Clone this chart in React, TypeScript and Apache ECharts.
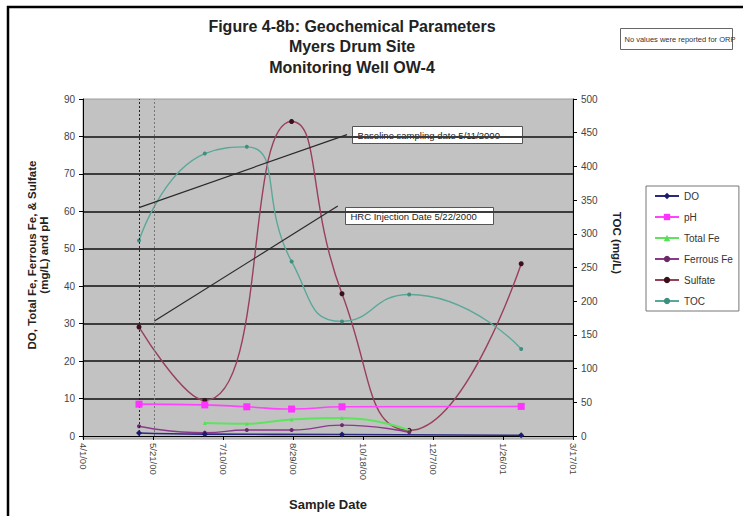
import React, { useEffect, useRef } from "react";
import * as echarts from "echarts";

// Sampling dates at monitoring well OW-4
const AXIS_START = "2000-04-01";
const AXIS_END = "2001-03-17";
const sampleDates = [
  "2000-05-11",
  "2000-06-27",
  "2000-07-27",
  "2000-08-28",
  "2000-10-03",
  "2000-11-20",
  "2001-02-08",
];

// mg/L (pH unitless); null = not reported on that date
const doValues = [0.8, 0.5, null, null, 0.4, null, 0.2];
const phValues = [8.5, 8.3, 7.8, 7.2, 7.8, null, 7.9];
const totalFeValues = [null, 3.5, 3.3, 4.4, 4.8, 1.5, null];
const ferrousFeValues = [2.6, 0.9, 1.6, 1.6, 2.9, 1.0, null];
const sulfateValues = [29.1, 9.5, null, 84.0, 38.0, 1.5, 46.0];
const tocValues = [290, 419, 429, 259, 170, 210, 129];

const baselineDate = "2000-05-11";
const injectionDate = "2000-05-22";

const DAY = 86400000;
const toUtc = (s: string) => {
  const [y, m, d] = s.split("-").map(Number);
  return Date.UTC(y, m - 1, d);
};
const dayOf = (s: string) => Math.round((toUtc(s) - toUtc(AXIS_START)) / DAY);
const fmtDay = (v: number) => {
  const dt = new Date(toUtc(AXIS_START) + v * DAY);
  const yy = String(dt.getUTCFullYear() % 100).padStart(2, "0");
  return `${dt.getUTCMonth() + 1}/${dt.getUTCDate()}/${yy}`;
};
const pairs = (vals: (number | null)[]) =>
  sampleDates.map((d, i) => [dayOf(d), vals[i]]);

const FONT = "Arial, 'Liberation Sans', sans-serif";

export default function App() {
  const ref = useRef<HTMLDivElement>(null);

  useEffect(() => {
    if (!ref.current) return;
    const chart = echarts.init(ref.current, undefined, { renderer: "svg" });

    const base = {
      type: "line" as const,
      smooth: 0.55,
      connectNulls: true,
      animation: false,
    };

    chart.setOption({
      animation: false,
      backgroundColor: "#ffffff",
      textStyle: { fontFamily: FONT },
      title: {
        text: "Figure 4-8b: Geochemical Parameters\nMyers Drum Site\nMonitoring Well OW-4",
        left: 352,
        top: 16,
        textAlign: "center",
        padding: 0,
        textStyle: {
          fontFamily: FONT,
          fontSize: 16,
          fontWeight: "bold",
          color: "#222",
          lineHeight: 20.5,
        },
      },
      legend: {
        orient: "vertical",
        left: 646,
        top: 186,
        backgroundColor: "#fff",
        borderColor: "#777",
        borderWidth: 1,
        padding: [5, 6, 5, 8],
        itemWidth: 24,
        itemHeight: 8,
        itemGap: 11,
        textStyle: { fontFamily: FONT, fontSize: 10, color: "#333" },
        data: ["DO", "pH", "Total Fe", "Ferrous Fe", "Sulfate", "TOC"],
      },
      grid: { left: 83, right: 170, top: 99, bottom: 77 },
      xAxis: {
        type: "value",
        min: 0,
        max: dayOf(AXIS_END),
        interval: 50,
        name: "Sample Date",
        nameLocation: "middle",
        nameGap: 62,
        nameTextStyle: { fontFamily: FONT, fontSize: 13, fontWeight: "bold", color: "#222" },
        axisLine: { onZero: false, lineStyle: { color: "#000", width: 1 } },
        axisTick: { show: true, length: 4, lineStyle: { color: "#000" } },
        axisLabel: {
          rotate: -90,
          fontSize: 9.5,
          color: "#444",
          margin: 7,
          formatter: (v: number) => fmtDay(v),
        },
        splitLine: { show: false },
      },
      yAxis: [
        {
          type: "value",
          min: 0,
          max: 90,
          interval: 10,
          axisLine: { show: true, lineStyle: { color: "#000", width: 1 } },
          axisTick: { show: true, length: 4, lineStyle: { color: "#000" } },
          axisLabel: { fontSize: 10, color: "#444", margin: 8 },
          splitLine: {
            show: true,
            showMinLine: false,
            showMaxLine: false,
            lineStyle: { color: "#3c3c3c", width: 1.8 },
          },
        },
        {
          type: "value",
          min: 0,
          max: 500,
          interval: 50,
          axisLine: { show: true, lineStyle: { color: "#000", width: 1 } },
          axisTick: { show: true, length: 4, lineStyle: { color: "#000" } },
          axisLabel: { fontSize: 10, color: "#444", margin: 8 },
          splitLine: { show: false },
        },
      ],
      series: [
        {
          ...base,
          name: "DO",
          data: pairs(doValues),
          color: "#1a1a6e",
          symbol: "diamond",
          symbolSize: 6,
          lineStyle: { width: 1.6, color: "#2a2a80" },
          z: 6,
          markLine: {
            silent: true,
            symbol: "none",
            label: { show: false },
            data: [
              { xAxis: dayOf(baselineDate), lineStyle: { color: "#222", type: [2, 2], width: 1 } },
              { xAxis: dayOf(injectionDate), lineStyle: { color: "#777", type: [2, 2], width: 1 } },
            ],
          },
        },
        {
          ...base,
          name: "pH",
          data: pairs(phValues),
          color: "#ff33ff",
          symbol: "rect",
          symbolSize: 7,
          lineStyle: { width: 1.6, color: "#ff44ff" },
          z: 5,
        },
        {
          ...base,
          name: "Total Fe",
          data: pairs(totalFeValues),
          color: "#55e055",
          symbol: "triangle",
          symbolSize: 4,
          lineStyle: { width: 2, color: "#5fe35f" },
          z: 4,
        },
        {
          ...base,
          name: "Ferrous Fe",
          data: pairs(ferrousFeValues),
          color: "#6a2a6a",
          symbol: "circle",
          symbolSize: 4,
          lineStyle: { width: 1.4, color: "#8a3a8a" },
          z: 4,
        },
        {
          ...base,
          name: "Sulfate",
          data: pairs(sulfateValues),
          color: "#3a0f1a",
          symbol: "circle",
          symbolSize: 5,
          lineStyle: { width: 1.4, color: "#9a3f5a" },
          z: 3,
          markLine: {
            silent: true,
            symbol: "none",
            label: { show: false },
            lineStyle: { color: "#2a2a2a", width: 1.2, type: "solid" },
            data: [
              [{ coord: [dayOf(baselineDate), 61] }, { coord: [188.6, 80.5] }],
              [{ coord: [dayOf(injectionDate), 30.7] }, { coord: [182, 61.4] }],
            ],
          },
        },
        {
          ...base,
          name: "TOC",
          yAxisIndex: 1,
          data: pairs(tocValues),
          color: "#3f8f80",
          symbol: "circle",
          symbolSize: 4,
          lineStyle: { width: 1.4, color: "#5aa898" },
          z: 3,
        },
      ],
      graphic: [
        // plot-area fill
        {
          type: "rect",
          shape: { x: 83, y: 99, width: 490, height: 340 },
          style: { fill: "#c2c2c2", stroke: "#9a9a9a", lineWidth: 1 },
          z: -10,
          silent: true,
        },
        // outer frame (left and top edges)
        {
          type: "polyline",
          shape: { points: [[8, 516], [8, 7], [743, 7]] },
          style: { stroke: "#000", lineWidth: 2.5, fill: "none" },
          silent: true,
        },
        // axis titles
        {
          type: "text",
          x: 38,
          y: 255,
          rotation: Math.PI / 2,
          style: {
            text: "DO, Total Fe, Ferrous Fe, & Sulfate\n(mg/L) and pH",
            font: `bold 11.5px ${FONT}`,
            lineHeight: 12.5,
            fill: "#222",
            align: "center",
            verticalAlign: "middle",
          },
          silent: true,
        },
        {
          type: "text",
          x: 617,
          y: 243,
          rotation: -Math.PI / 2,
          style: {
            text: "TOC (mg/L)",
            font: `bold 11.5px ${FONT}`,
            fill: "#222",
            align: "center",
            verticalAlign: "middle",
          },
          silent: true,
        },
        {
          type: "group",
          left: 620,
          top: 28,
          children: [
            {
              type: "rect",
              shape: { x: 0, y: 0, width: 112, height: 21 },
              style: { fill: "#fff", stroke: "#666", lineWidth: 1 },
            },
            {
              type: "text",
              x: 4,
              y: 10.5,
              style: {
                text: "No values were reported for ORP",
                font: `7.5px ${FONT}`,
                fill: "#333",
                verticalAlign: "middle",
              },
            },
          ],
        },
        {
          type: "group",
          left: 352,
          top: 126,
          z: 20,
          children: [
            {
              type: "rect",
              shape: { x: 0, y: 0, width: 170, height: 17 },
              style: { fill: "#fff", stroke: "#555", lineWidth: 1 },
            },
            {
              type: "text",
              x: 5,
              y: 8.5,
              style: {
                text: "Baseline sampling date 5/11/2000",
                font: `9.5px ${FONT}`,
                fill: "#222",
                verticalAlign: "middle",
              },
            },
          ],
        },
        {
          type: "group",
          left: 345,
          top: 207,
          z: 20,
          children: [
            {
              type: "rect",
              shape: { x: 0, y: 0, width: 148, height: 17 },
              style: { fill: "#fff", stroke: "#555", lineWidth: 1 },
            },
            {
              type: "text",
              x: 5,
              y: 8.5,
              style: {
                text: "HRC Injection Date 5/22/2000",
                font: `9.5px ${FONT}`,
                fill: "#222",
                verticalAlign: "middle",
              },
            },
          ],
        },
      ],
    });

    return () => chart.dispose();
  }, []);

  return (
    <div
      ref={ref}
      style={{ position: "fixed", left: 0, top: 0, width: 743, height: 516, background: "#fff" }}
    />
  );
}
